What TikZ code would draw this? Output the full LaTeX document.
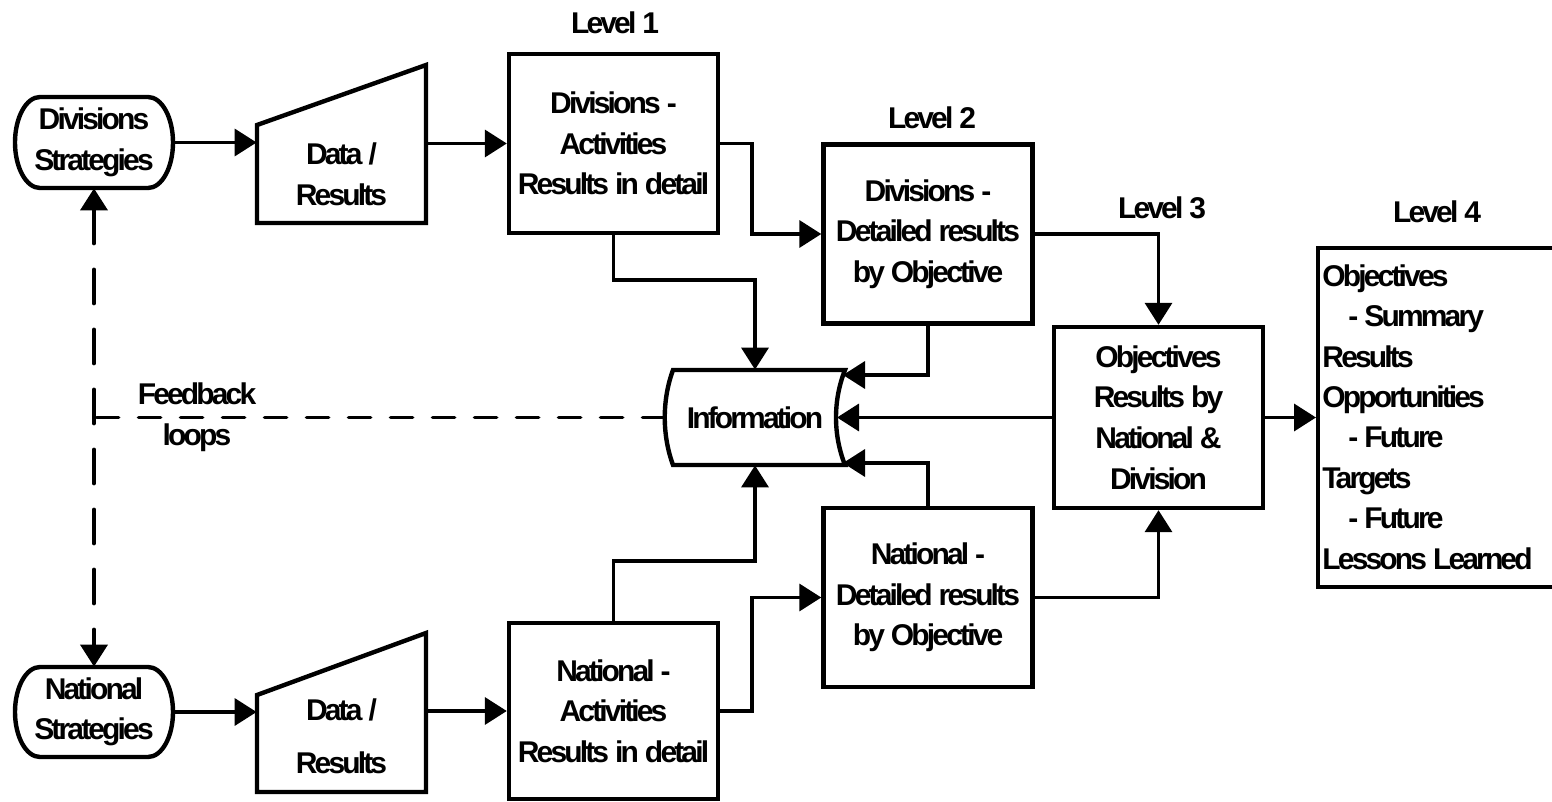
\documentclass[tikz,border=0pt]{standalone}
\usepackage{fontspec}
\setmainfont{Liberation Sans}[LetterSpace=-9.5]
\usetikzlibrary{arrows.meta,calc}
\newcommand{\diafont}{\bfseries\fontsize{15pt}{20.3pt}\selectfont\spaceskip=3pt\relax}
\newcommand{\diafontb}{\bfseries\fontsize{15pt}{20.2pt}\selectfont\spaceskip=3pt\relax}
\begin{document}
\begin{tikzpicture}[x=0.5pt,y=-0.5pt,
  every node/.style={inner sep=0pt, align=center, font=\diafont},
  box/.style={draw, line width=2.2pt, minimum width=104.5pt, minimum height=89.5pt},
  shp/.style={line width=2.2pt, line join=miter},
  conn/.style={line width=1.8pt, -{Triangle[length=11pt,width=13.5pt]}},
  fbv/.style={line width=1.9pt, dash pattern=on 17pt off 13pt, line cap=round,
     {Triangle[length=11pt,width=13.5pt]}-{Triangle[length=11pt,width=13.5pt]}},
  fbh/.style={line width=1.9pt, dash pattern=on 11pt off 10pt, line cap=round}
]
\useasboundingbox (0,0) rectangle (1552,802);
\clip (0,0) rectangle (1552,802);

% level labels
\node (lv1) at (615,23) {Level 1};
\node (lv2) at (932,118) {Level 2};
\node (lv3) at (1162,208) {Level 3};
\node (lv4) at (1437,212) {Level 4};

% strategies (stadium shapes)
\draw[shp] (40,97) -- (148,97) arc[start angle=90,end angle=-90,x radius=12.5pt,y radius=22.75pt]
  -- (40,188) arc[start angle=270,end angle=90,x radius=12.5pt,y radius=22.75pt] -- cycle;
\node[minimum width=79pt, minimum height=45.5pt] (ds) at (94,142.5) {Divisions\\Strategies};
\draw[shp] (40,667) -- (148,667) arc[start angle=90,end angle=-90,x radius=12.5pt,y radius=22.5pt]
  -- (40,757) arc[start angle=270,end angle=90,x radius=12.5pt,y radius=22.5pt] -- cycle;
\node[minimum width=79pt, minimum height=45pt] (ns) at (94,712) {National\\Strategies};

% data / results (manual input shapes)
\draw[shp] (257,125) -- (426,65) -- (426,223) -- (257,223) -- cycle;
\node[minimum width=84.5pt] (d1) at (341.5,174) {Data /\\Results};
\draw[shp] (257,695) -- (426,633) -- (426,792) -- (257,792) -- cycle;
\node[minimum width=84.5pt] (d2) at (341.5,736.5) {Data /\\[6pt]Results};

% boxes
\node[box] (b1) at (613.5,143.5) {Divisions -\\Activities\\Results in detail};
\node[box] (b2) at (928,234) {Divisions -\\Detailed results\\by Objective};
\node[box, minimum height=90.5pt] (b3) at (1158.5,417.5) {Objectives\\Results by\\National \&\\Division};
\node[box, minimum height=88pt] (n1) at (613.5,711) {National -\\Activities\\Results in detail};
\node[box] (n2) at (928,597.5) {National -\\Detailed results\\by Objective};
\node[box, anchor=west, minimum width=142pt, minimum height=169.5pt] (b4) at (1316,417.5) {};
\node[anchor=west, align=left, font=\diafontb] (b4t) at (1322,417) 
  {Objectives\\\hspace*{13pt}- Summary\\Results\\Opportunities\\\hspace*{13pt}- Future\\Targets\\\hspace*{13pt}- Future\\Lessons Learned};

% information (stored data shape)
\draw[shp] (673,370) -- (845,370) .. controls (833,400) and (833,435) .. (845,465)
  -- (673,465) .. controls (662,435) and (662,400) .. (673,370) -- cycle;
\node[minimum width=90pt, minimum height=47.5pt] (info) at (755,417.5) {Information};
\coordinate (iNE) at (843,375);
\coordinate (iE) at (837,418);
\coordinate (iSE) at (843,463);

% feedback
\node (fb) at (197,417.5) {Feedback\\loops};
\draw[fbv] (ds.south) -- (ns.north);
\draw[fbh] (info.west) -- (info.west -| ds.south);

% connectors
\draw[conn] (ds.east) -- (ds.east -| d1.west);
\draw[conn] (d1.east |- b1.west) -- (b1.west);
\draw[conn] (b1.east) -- ++(32,0) |- (b2.west);
\draw[conn] (b1.south) -- ++(0,45) -| (info.north);
\draw[conn] (b2.south) |- (iNE);
\draw[conn] (b2.east) -| (b3.north);
\draw[conn] (b3.west) -- (b3.west -| iE);
\draw[conn] (b3.east) -- (b3.east -| b4.west);
\draw[conn] (ns.east) -- (ns.east -| d2.west);
\draw[conn] (d2.east |- n1.west) -- (n1.west);
\draw[conn] (n1.east) -- ++(32,0) |- (n2.west);
\draw[conn] (n1.north) -- ++(0,-60) -| (info.south);
\draw[conn] (n2.north) |- (iSE);
\draw[conn] (n2.east) -| (b3.south);
\end{tikzpicture}
\end{document}
